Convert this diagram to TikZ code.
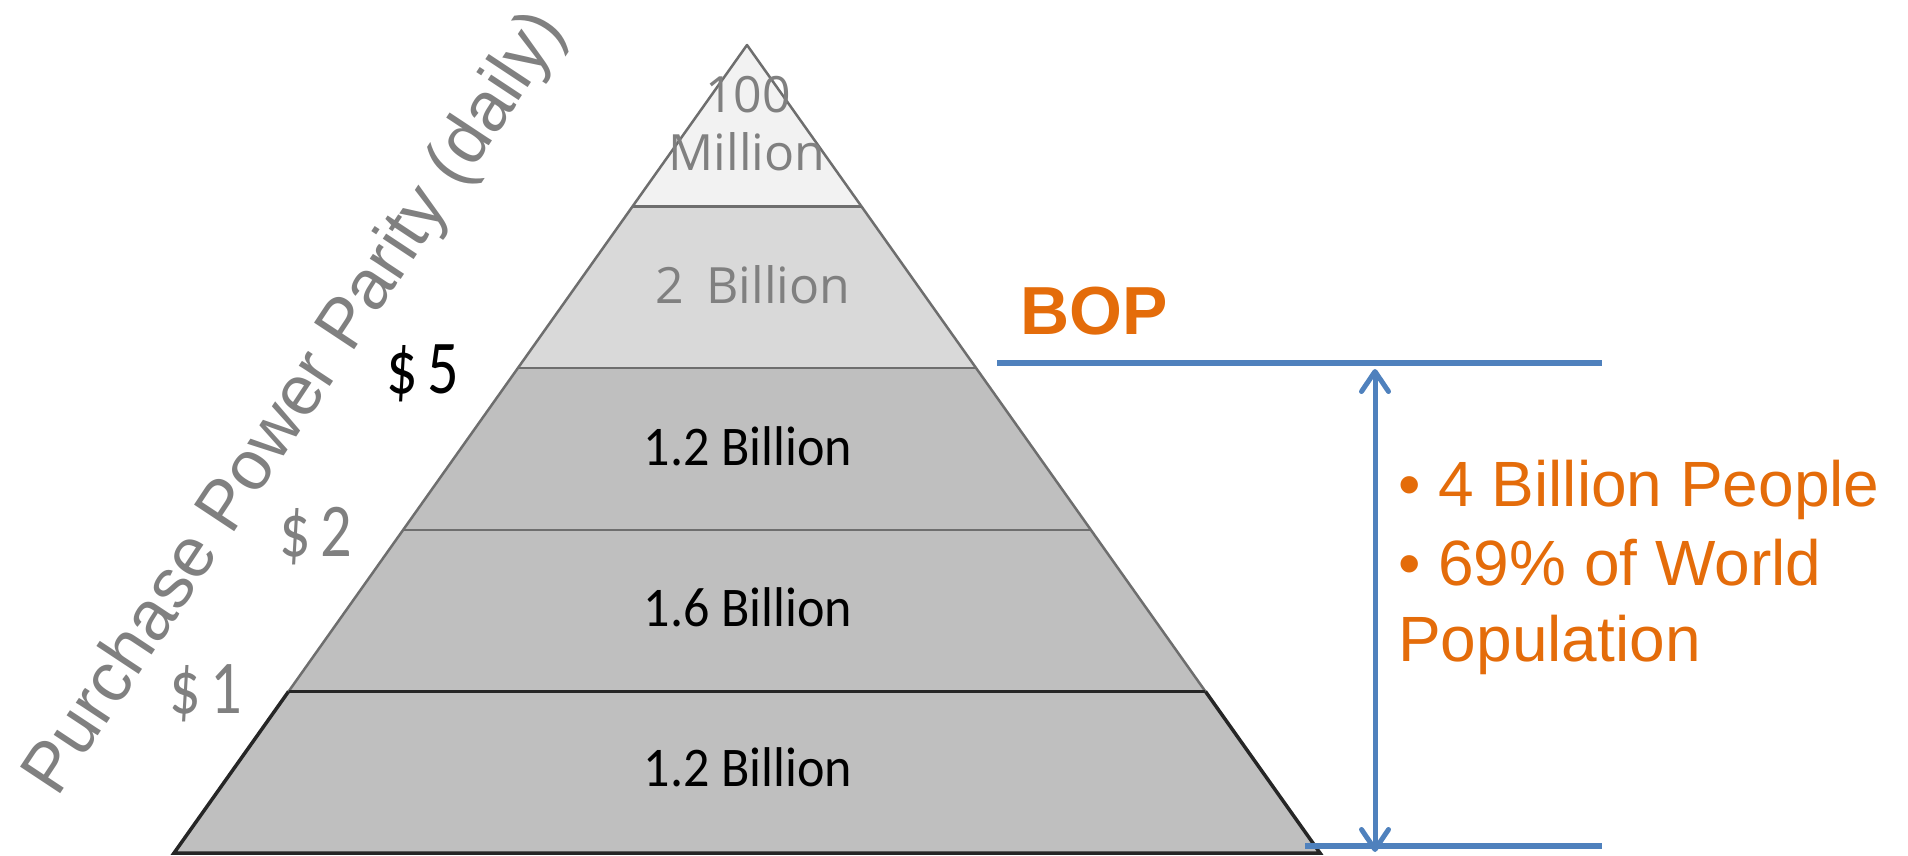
\documentclass[tikz,border=0pt]{standalone}
\usepackage{fontspec}
\setmainfont{Liberation Sans}
\newfontfamily\carl{Carlito}
\newfontfamily\opsans{Open Sans}
\usetikzlibrary{arrows.meta,calc}
\definecolor{tierA}{HTML}{F2F2F2}
\definecolor{tierB}{HTML}{D9D9D9}
\definecolor{tierC}{HTML}{BFBFBF}
\definecolor{edgegray}{HTML}{6E6E6E}
\definecolor{txtgray}{HTML}{808080}
\definecolor{bopblue}{HTML}{4F81BD}
\definecolor{boporange}{HTML}{E46C0A}
\tikzset{
  tierline/.style={draw=edgegray,line width=2.5pt},
  darkline/.style={draw=black!85,line width=3.5pt},
  graylabel/.style={text=txtgray,font=\opsans\fontsize{50}{57}\selectfont,inner sep=0pt,align=center},
  blacklabel/.style={text=black,font=\carl\fontsize{56}{60}\selectfont,inner sep=0pt,xscale=0.93},
  dollar/.style={font=\carl\fontsize{76}{80}\selectfont,inner sep=0pt,xscale=0.82,anchor=base west},
  blueline/.style={draw=bopblue,line width=6.5pt},
  bullettext/.style={text=boporange,font=\fontsize{64}{77}\selectfont,inner sep=0pt,anchor=base west},
}
\begin{document}
\begin{tikzpicture}[x=1pt,y=-1pt]
\useasboundingbox (0,0) rectangle (1908,856);
% pyramid corner points
\coordinate (apex) at (747,45);
\coordinate (l1) at (632.4,206.6); \coordinate (r1) at (861.6,206.6);
\coordinate (l2) at (517.8,368.2); \coordinate (r2) at (976.2,368.2);
\coordinate (l3) at (403.2,529.8); \coordinate (r3) at (1090.8,529.8);
\coordinate (l4) at (288.6,691.4); \coordinate (r4) at (1205.4,691.4);
\coordinate (l5) at (174,853);     \coordinate (r5) at (1320,853);
% fills
\fill[tierA] (apex) -- (r1) -- (l1) -- cycle;
\fill[tierB] (l1) -- (r1) -- (r2) -- (l2) -- cycle;
\fill[tierC] (l2) -- (r2) -- (r5) -- (l5) -- cycle;
% edges
\draw[tierline,line join=round] (l4) -- (apex) -- (r4);
\draw[tierline] (l1) -- (r1);
\draw[tierline] (l2) -- (r2);
\draw[tierline] (l3) -- (r3);
\draw[darkline] (l4) -- (r4);
\draw[darkline,line join=miter] (l4) -- (l5) -- (r5) -- (r4);
% pyramid labels
\node[graylabel,anchor=base] (t100) at (748,113) {100};
\node[graylabel,anchor=base] (tmil) at (747,170) {Million};
\node[graylabel,anchor=base] (t2b) at (753,303) {2\hspace{9pt} Billion};
\node[blacklabel,anchor=base] (t12a) at (748,465) {1.2 Billion};
\node[blacklabel,anchor=base] (t16) at (748,626) {1.6 Billion};
\node[blacklabel,anchor=base] (t12b) at (748,786) {1.2 Billion};
% dollar labels
\node[dollar,text=black] (d5) at (386,393) {\$\hspace{12pt}5};
\node[dollar,text=txtgray] (d2) at (279,556) {\$\hspace{12pt}2};
\node[dollar,text=txtgray] (d1) at (169,713) {\$\hspace{12pt}1};
% axis title
\node[text=txtgray,font=\fontsize{70}{80}\selectfont,inner sep=0pt,anchor=base west,rotate=56.5] (ppp) at (57,799) {Purchase Power Parity (daily)};
% BOP
\node[text=boporange,font=\bfseries\fontsize{68}{75}\selectfont,inner sep=0pt,anchor=base west] (bop) at (1020,334) {BOP};
\coordinate (topL) at (997,363);
\coordinate (topR) at (1602,363);
\coordinate (botL) at (1305,846);
\coordinate (botR) at (1602,846);
\coordinate (aTop) at (1375,369);
\coordinate (aBot) at (1375,852);
\draw[blueline] (topL) -- (topR);
\draw[blueline] (botL) -- (botR);
\draw[draw=bopblue,line width=5pt,{Straight Barb[length=20pt,width=27pt,round]}-{Straight Barb[length=20pt,width=27pt,round]}] (aTop) -- (aBot);
% bullets
\node[bullettext] (b1) at (1398,506) {• 4 Billion People};
\node[bullettext] (b2) at (1398,585) {• 69\% of World};
\node[bullettext] (b3) at (1398,661) {Population};
\end{tikzpicture}
\end{document}
